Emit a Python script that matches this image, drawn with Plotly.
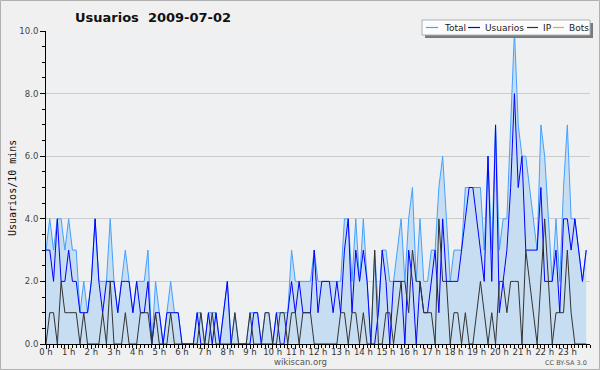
import plotly.graph_objects as go

# ---- data (10-minute samples, 2009-07-02) ----
total = [3, 4, 3, 4, 4, 3, 4, 3, 3, 1, 2, 1,
         2, 4, 2, 2, 2, 4, 2, 1, 2, 3, 2, 1,
         2, 2, 2, 3, 0, 2, 1, 0, 1, 2, 1, 1,
         0, 0, 0, 0, 1, 1, 0, 1, 1, 1, 0, 1,
         2, 0, 1, 0, 0, 0, 1, 1, 1, 0, 1, 1,
         0, 1, 1, 1, 1, 3, 2, 2, 2, 2, 2, 3,
         2, 2, 2, 2, 2, 2, 2, 4, 4, 2, 4, 2,
         4, 2, 0, 3, 1, 3, 3, 2, 2, 3, 4, 2,
         4, 5, 2, 4, 2, 2, 3, 3, 5, 6, 4, 2,
         3, 3, 3, 5, 5, 5, 5, 5, 3, 6, 3, 7,
         3, 4, 4, 7, 10, 7, 6, 6, 5, 4, 3, 7,
         6, 4, 2, 4, 2, 5, 7, 4, 4, 3, 2, 3]
usuarios = [3, 3, 2, 4, 2, 2, 3, 2, 2, 1, 1, 1,
            2, 4, 2, 1, 2, 2, 2, 1, 2, 2, 2, 1,
            2, 1, 1, 2, 0, 1, 1, 0, 1, 1, 1, 1,
            0, 0, 0, 0, 1, 0, 0, 1, 0, 1, 0, 1,
            2, 0, 0, 0, 0, 0, 0, 1, 1, 0, 0, 0,
            0, 1, 0, 0, 1, 2, 1, 2, 1, 1, 1, 3,
            1, 2, 2, 2, 1, 2, 1, 3, 4, 1, 3, 2,
            3, 2, 0, 0, 1, 3, 2, 0, 2, 2, 2, 0,
            3, 2, 0, 2, 1, 1, 2, 3, 1, 4, 2, 2,
            2, 2, 3, 4, 5, 5, 4, 3, 2, 6, 2, 7,
            1, 2, 3, 5, 8, 5, 6, 3, 3, 3, 3, 5,
            2, 2, 2, 3, 1, 4, 4, 3, 4, 3, 2, 3]
ip = [0, 1, 1, 0, 2, 1, 1, 1, 1, 0, 1, 0,
      0, 0, 0, 1, 0, 2, 0, 0, 0, 1, 0, 0,
      0, 1, 1, 1, 0, 1, 0, 0, 0, 1, 0, 0,
      0, 0, 0, 0, 0, 1, 0, 0, 1, 0, 0, 0,
      0, 0, 1, 0, 0, 0, 1, 0, 0, 0, 1, 1,
      0, 0, 1, 1, 0, 1, 1, 0, 1, 1, 1, 0,
      0, 0, 0, 0, 0, 0, 1, 1, 0, 1, 1, 0,
      1, 0, 0, 3, 0, 0, 1, 1, 0, 1, 2, 2,
      1, 3, 2, 2, 1, 1, 1, 0, 4, 2, 2, 0,
      1, 1, 0, 1, 0, 0, 1, 2, 1, 0, 1, 0,
      2, 2, 1, 2, 2, 2, 0, 3, 2, 1, 0, 2,
      4, 2, 0, 1, 1, 1, 3, 1, 0, 0, 0, 0]
bots = []  # no bot activity drawn on this day

hour_ticks = list(range(24))
hour_labels = [f"{h} h" for h in hour_ticks]
y_ticks = [0, 2, 4, 6, 8, 10]
y_labels = ["0.0", "2.0", "4.0", "6.0", "8.0", "10.0"]

series_names = ["Total", "Usuarios", "IP", "Bots"]
series_colors = ["#44a0ff", "#0000ff", "#333333", "#ffa500"]

hours = [i / 6 for i in range(len(total))]

FONT = "DejaVu Sans, sans-serif"

# plot area geometry in pixels (for placing decorations)
L, R, T, B = 46, 590, 31, 344


def px(xp):
    return (xp - L) / (R - L)


def py(yp):
    return (B - yp) / (B - T)


fig = go.Figure()
fig.add_trace(go.Scatter(x=hours, y=total, mode="lines", name="Total",
                         line=dict(color=series_colors[0], width=1),
                         fill="tozeroy", fillcolor="#c7ddf1", showlegend=False))
fig.add_trace(go.Scatter(x=hours, y=usuarios, mode="lines", name="Usuarios",
                         line=dict(color=series_colors[1], width=1), showlegend=False))
fig.add_trace(go.Scatter(x=hours, y=ip, mode="lines", name="IP",
                         line=dict(color=series_colors[2], width=1), showlegend=False))
fig.add_trace(go.Scatter(x=[h / 6 for h in range(len(bots))], y=bots, mode="lines",
                         name="Bots", line=dict(color=series_colors[3], width=1),
                         showlegend=False))

shapes = []
annotations = []

# outer frame
shapes.append(dict(type="rect", xref="paper", yref="paper",
                   x0=px(0.5), x1=px(599.5), y0=py(369.5), y1=py(0.5),
                   line=dict(color="#b0b0b0", width=1), fillcolor="rgba(0,0,0,0)",
                   layer="above"))

# legend box with shadow
shapes.append(dict(type="rect", xref="paper", yref="paper",
                   x0=px(425), x1=px(593), y0=py(38), y1=py(23),
                   line=dict(width=0), fillcolor="#7a7a7a", layer="above"))
shapes.append(dict(type="rect", xref="paper", yref="paper",
                   x0=px(422), x1=px(590), y0=py(35), y1=py(20),
                   line=dict(color="#b0b0b0", width=1), fillcolor="#fcfcfc", layer="above"))
sample_x = [(426, 438, 442), (468, 480, 483), (527, 538, 541), (553, 564, 567)]
for (a, b, t), name, col in zip(sample_x, series_names, series_colors):
    shapes.append(dict(type="line", xref="paper", yref="paper",
                       x0=px(a), x1=px(b), y0=py(27.5), y1=py(27.5),
                       line=dict(color=col, width=1.2), layer="above"))
    annotations.append(dict(text=name, xref="paper", yref="paper", x=px(t), y=py(27.5),
                            xanchor="left", yanchor="middle", showarrow=False,
                            font=dict(family=FONT, size=9, color="#222222")))

# y axis title
annotations.append(dict(text="Usuarios/10 mins", xref="paper", yref="paper",
                        x=px(12), y=py(188), textangle=-90, showarrow=False,
                        xanchor="center", yanchor="middle",
                        font=dict(family="DejaVu Sans Mono, monospace", size=10, color="#111111")))
# footer texts
annotations.append(dict(text="wikiscan.org", xref="paper", yref="paper",
                        x=px(300), y=py(362), showarrow=False,
                        xanchor="center", yanchor="middle",
                        font=dict(family=FONT, size=8.5, color="#555555")))
annotations.append(dict(text="CC BY-SA 3.0", xref="paper", yref="paper",
                        x=px(566), y=py(362.5), showarrow=False,
                        xanchor="center", yanchor="middle",
                        font=dict(family=FONT, size=6.5, color="#555555")))

fig.update_layout(
    width=600, height=370,
    margin=dict(l=L, r=600 - R, t=T, b=370 - B),
    paper_bgcolor="#f0f0f0",
    plot_bgcolor="#eef0f2",
    title=dict(text="<b>Usuarios  2009-07-02</b>", x=75 / 600, xanchor="left",
               y=1 - 17 / 370, yanchor="middle",
               font=dict(family=FONT, size=13, color="#111111")),
    shapes=shapes,
    annotations=annotations,
    showlegend=False,
    xaxis=dict(range=[0, 24], tickmode="array", tickvals=hour_ticks, ticktext=hour_labels,
               showgrid=False, zeroline=False, showline=True, linecolor="black", linewidth=1,
               ticks="outside", ticklen=4, tickcolor="black", ticklabelstandoff=-4,
               minor=dict(tickmode="linear", tick0=0, dtick=1 / 6, ticks="outside",
                          ticklen=3, tickcolor="black", showgrid=False),
               tickfont=dict(family=FONT, size=8.5, color="#333333"),
               fixedrange=True),
    yaxis=dict(range=[0, 10], tickmode="array", tickvals=y_ticks, ticktext=y_labels,
               showgrid=True, gridcolor="#cccccc", gridwidth=1, zeroline=False,
               showline=True, linecolor="black", linewidth=1,
               ticks="outside", ticklen=5, tickcolor="black",
               minor=dict(tickmode="linear", tick0=0, dtick=0.5, ticks="outside",
                          ticklen=3, tickcolor="black", showgrid=False),
               tickfont=dict(family=FONT, size=8.5, color="#444444"),
               fixedrange=True),
)

fig.write_html("out.html")
